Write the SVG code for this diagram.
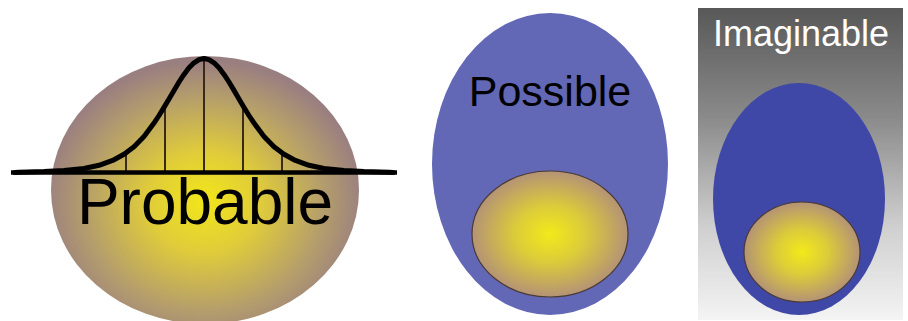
<svg xmlns="http://www.w3.org/2000/svg" width="908" height="321" viewBox="0 0 908 321">
<defs>
<radialGradient id="gProb" cx="204" cy="205" r="160" fx="204" fy="200" gradientUnits="userSpaceOnUse" gradientTransform="translate(204 205) scale(1 0.9) translate(-204 -205)">
<stop offset="0" stop-color="#f2e61a"/>
<stop offset="0.35" stop-color="#e0cc3a"/>
<stop offset="0.75" stop-color="#b49d6c"/>
<stop offset="1" stop-color="#9a7f80"/>
</radialGradient>
<radialGradient id="gIn" cx="0.5" cy="0.5" r="0.5">
<stop offset="0" stop-color="#f2ea1a"/>
<stop offset="0.45" stop-color="#dccb3a"/>
<stop offset="1" stop-color="#b49375"/>
</radialGradient>
<linearGradient id="gGray" x1="0" y1="0" x2="0" y2="1">
<stop offset="0" stop-color="#585858"/>
<stop offset="0.35" stop-color="#8a8a8a"/>
<stop offset="0.7" stop-color="#cfcfcf"/>
<stop offset="1" stop-color="#f4f4f4"/>
</linearGradient>
</defs>
<style>
.lbl{font-family:"Liberation Sans",Arial,sans-serif;text-anchor:middle}
.inner{stroke:#4a3a30;stroke-width:1.2}
</style>
<rect width="908" height="321" fill="#ffffff"/>

<g id="probable">
<ellipse cx="205" cy="190" rx="154" ry="134" fill="url(#gProb)"/>
<g stroke="#3a2a1a" stroke-width="2">
<line x1="126" y1="153" x2="126" y2="172"/>
<line x1="165" y1="106" x2="165" y2="172"/>
<line x1="204" y1="58" x2="204" y2="172"/>
<line x1="243" y1="106" x2="243" y2="172"/>
<line x1="282" y1="153" x2="282" y2="172"/>
</g>
<line x1="11" y1="172.5" x2="397" y2="172.5" stroke="#000" stroke-width="4.5"/>
<polyline fill="none" stroke="#000" stroke-width="5" stroke-linejoin="round" stroke-linecap="round" points="15,172.5 19,172.2 44,171.6 64,170.6 84,168.5 99,165.3 114,159.8 124,154.3 134,146.8 144,136.4 154,123.1 159,115.5 164,107.4 169,98.9 174,90.4 179,82 184,74.4 189,67.8 194,62.8 199,59.6 204,58.5 209,59.6 214,62.8 219,67.8 224,74.4 229,82 234,90.4 239,98.9 244,107.4 249,115.5 254,123.1 264,136.4 274,146.8 284,154.3 294,159.8 309,165.3 324,168.5 344,170.6 364,171.6 389,172.2 393,172.5"/>
<text class="lbl" x="205" y="224" font-size="64" fill="#000">Probable</text>
</g>

<g id="possible">
<ellipse cx="550" cy="164" rx="118" ry="151" fill="#6268b6"/>
<ellipse class="inner" cx="550" cy="234" rx="78" ry="63" fill="url(#gIn)"/>
<text class="lbl" x="550" y="106" font-size="43" fill="#000">Possible</text>
</g>

<g id="imaginable">
<rect x="698" y="8" width="205" height="312" fill="url(#gGray)"/>
<ellipse cx="799" cy="199" rx="86" ry="116" fill="#3f48a6"/>
<ellipse class="inner" cx="802" cy="252" rx="58" ry="50" fill="url(#gIn)"/>
<text class="lbl" x="801" y="46" font-size="36" fill="#ffffff">Imaginable</text>
</g>
</svg>
